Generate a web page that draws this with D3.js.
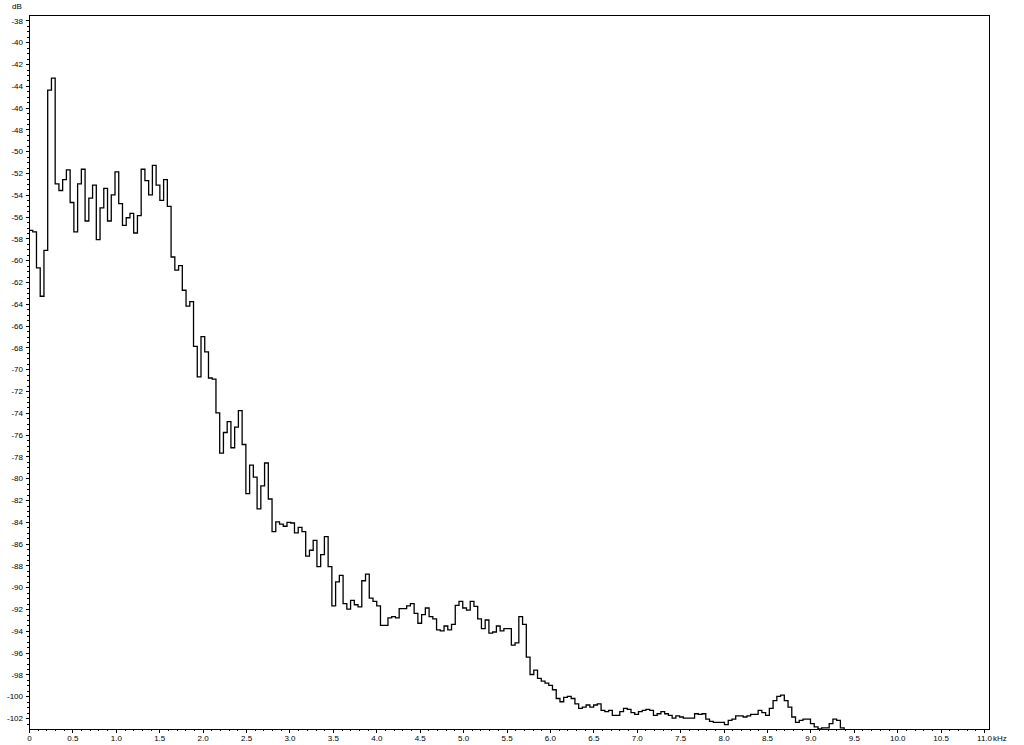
<!DOCTYPE html>
<html>
<head>
<meta charset="utf-8">
<script src="https://cdn.jsdelivr.net/npm/d3@7"></script>
<style>
    html, body { margin: 0; padding: 0; background: #fff; }
    svg { display: block; }
    text { font-family: "Liberation Sans", Arial, sans-serif; font-size: 8px; fill: #000; }
</style>
</head>
<body>
<svg id="spectrum"></svg>
<script>
// level of each fft bin in dB (bin k starts at k * binWidth)
const levels = [
    -57.25, -57.4, -60.7, -63.3, -59.1, -44.4, -43.3, -53.0, -53.6, -52.6,
    -51.7, -54.7, -57.4, -53.0, -51.65, -56.4, -54.3, -53.1, -58.1, -55.2,
    -53.4, -56.4, -54.0, -51.9, -54.8, -56.8, -56.1, -55.7, -57.5, -55.9,
    -51.65, -52.7, -54.0, -51.3, -53.1, -54.5, -52.6, -55.05, -59.7, -60.9,
    -60.5, -62.75, -64.2, -63.8, -67.9, -70.7, -67.0, -68.4, -70.8, -70.9,
    -74.0, -77.7, -75.8, -74.8, -77.2, -75.3, -73.8, -76.9, -81.4, -78.8,
    -79.9, -82.8, -80.7, -78.6, -81.9, -84.9, -84.0, -84.2, -84.4, -84.05,
    -84.1, -85.0, -84.5, -84.9, -87.15, -86.6, -85.7, -88.1, -87.0, -85.35,
    -88.1, -91.7, -89.5, -88.9, -91.5, -92.0, -91.2, -91.6, -91.8, -89.4,
    -88.8, -91.0, -91.3, -91.7, -93.5, -93.5, -92.8, -92.7, -92.8, -91.95,
    -91.95, -91.7, -91.5, -92.4, -93.3, -92.5, -91.9, -92.7, -92.9, -93.9,
    -94.0, -93.55, -93.9, -93.4, -91.65, -91.3, -91.9, -92.1, -91.3, -91.75,
    -92.9, -93.8, -93.0, -94.2, -94.1, -93.55, -94.0, -93.8, -93.8, -95.3,
    -95.1, -92.7, -93.4, -96.4, -98.0, -97.6, -98.35, -98.6, -98.8, -99.0,
    -99.4, -100.2, -100.5, -100.1, -100.0, -100.2, -100.7, -101.1, -101.0, -100.8,
    -101.0, -100.8, -100.7, -101.3, -101.4, -101.3, -101.75, -101.75, -101.4, -101.1,
    -101.2, -101.5, -101.65, -101.4, -101.3, -101.2, -101.3, -101.75, -101.6, -101.4,
    -101.6, -101.75, -102.0, -101.8, -101.9, -102.0, -102.0, -102.0, -101.6, -101.65,
    -101.6, -102.1, -102.3, -102.4, -102.4, -102.4, -102.6, -102.2, -102.1, -101.8,
    -101.8, -101.9, -101.8, -101.65, -101.65, -101.3, -101.5, -101.75, -101.1, -100.4,
    -100.0, -99.9, -100.4, -101.0, -101.9, -102.4, -102.2, -102.1, -102.1, -102.5,
    -102.8, -103.0, -102.9, -102.9, -102.5, -102.1, -102.2, -102.9, -103.05
];

// bin width in kHz (22.05 kHz / 512)
const binWidth = 22.05 / 512;

// axis ticks and labels
const yTicks = [-38, -40, -42, -44, -46, -48, -50, -52, -54, -56, -58, -60, -62, -64, -66, -68,
    -70, -72, -74, -76, -78, -80, -82, -84, -86, -88, -90, -92, -94, -96, -98, -100, -102];
const xTicks = [0, 0.5, 1.0, 1.5, 2.0, 2.5, 3.0, 3.5, 4.0, 4.5, 5.0, 5.5, 6.0, 6.5, 7.0, 7.5,
    8.0, 8.5, 9.0, 9.5, 10.0, 10.5, 11.0];
const xTickLabels = ['0', '0.5', '1.0', '1.5', '2.0', '2.5', '3.0', '3.5', '4.0', '4.5', '5.0', '5.5',
    '6.0', '6.5', '7.0', '7.5', '8.0', '8.5', '9.0', '9.5', '10.0', '10.5', '11.0'];
const yUnit = 'dB';
const xUnit = 'kHz';

const width = 1024;
const height = 745;
const margin = { top: 15, right: 35, bottom: 16, left: 29 };

const svg = d3.select('#spectrum')
    .attr('width', width)
    .attr('height', height);

const x = d3.scaleLinear()
    .domain([0, 11.057])
    .range([margin.left, width - margin.right]);

const y = d3.scaleLinear()
    .domain([-103, -37.5])
    .range([height - margin.bottom, margin.top]);

// minor ticks
const xMinor = d3.range(0, 110.5, 1).map(d => d / 10).filter(d => d % 0.5 !== 0);
const yMinor = d3.range(-205, -75, 1).map(d => d / 2).filter(d => d % 2 !== 0);

// x axis
svg.append('g')
    .attr('transform', `translate(0, ${height - margin.bottom})`)
    .call(d3.axisBottom(x).tickValues(xMinor).tickSize(2).tickFormat(''))
    .call(g => g.select('.domain').remove());

const xAxis = svg.append('g')
    .attr('transform', `translate(0, ${height - margin.bottom})`)
    .call(d3.axisBottom(x).tickValues(xTicks).tickSize(4).tickPadding(2)
        .tickFormat((d, i) => xTickLabels[i]));
xAxis.select('.domain').remove();

// unit label right after the last tick label
svg.append('text')
    .attr('x', x(11.0) + 9)
    .attr('y', height - margin.bottom + 6)
    .attr('dy', '0.71em')
    .text(xUnit);

// y axis
svg.append('g')
    .attr('transform', `translate(${margin.left}, 0)`)
    .call(d3.axisLeft(y).tickValues(yMinor).tickSize(2).tickFormat(''))
    .call(g => g.select('.domain').remove());

const yAxis = svg.append('g')
    .attr('transform', `translate(${margin.left}, 0)`)
    .call(d3.axisLeft(y).tickValues(yTicks).tickSize(3).tickPadding(3).tickFormat(d => d));
yAxis.select('.domain').remove();

svg.append('text')
    .attr('x', 12)
    .attr('y', 6)
    .attr('dy', '0.32em')
    .text(yUnit);

svg.selectAll('.tick line')
    .attr('stroke', '#000')
    .attr('shape-rendering', 'crispEdges');
svg.selectAll('.tick text')
    .attr('fill', '#000')
    .style('font-size', '8px')
    .style('font-family', '"Liberation Sans", Arial, sans-serif');

// plot frame
svg.append('rect')
    .attr('x', margin.left)
    .attr('y', margin.top)
    .attr('width', width - margin.left - margin.right)
    .attr('height', height - margin.top - margin.bottom)
    .attr('fill', 'none')
    .attr('stroke', '#000')
    .attr('shape-rendering', 'crispEdges');

// clip the spectrum to the plot area
svg.append('clipPath')
    .attr('id', 'plot-clip')
    .append('rect')
    .attr('x', margin.left)
    .attr('y', margin.top)
    .attr('width', width - margin.left - margin.right)
    .attr('height', height - margin.top - margin.bottom);

// each bin holds its level until the next one starts
const points = levels.map((v, i) => ({ f: i * binWidth, v: v }));
points.push({ f: levels.length * binWidth, v: levels[levels.length - 1] });

const line = d3.line()
    .x(d => x(d.f))
    .y(d => y(d.v))
    .curve(d3.curveStepAfter);

svg.append('path')
    .datum(points)
    .attr('clip-path', 'url(#plot-clip)')
    .attr('fill', 'none')
    .attr('stroke', '#000')
    .attr('stroke-width', 1.3)
    .attr('d', line);
</script>
</body>
</html>
